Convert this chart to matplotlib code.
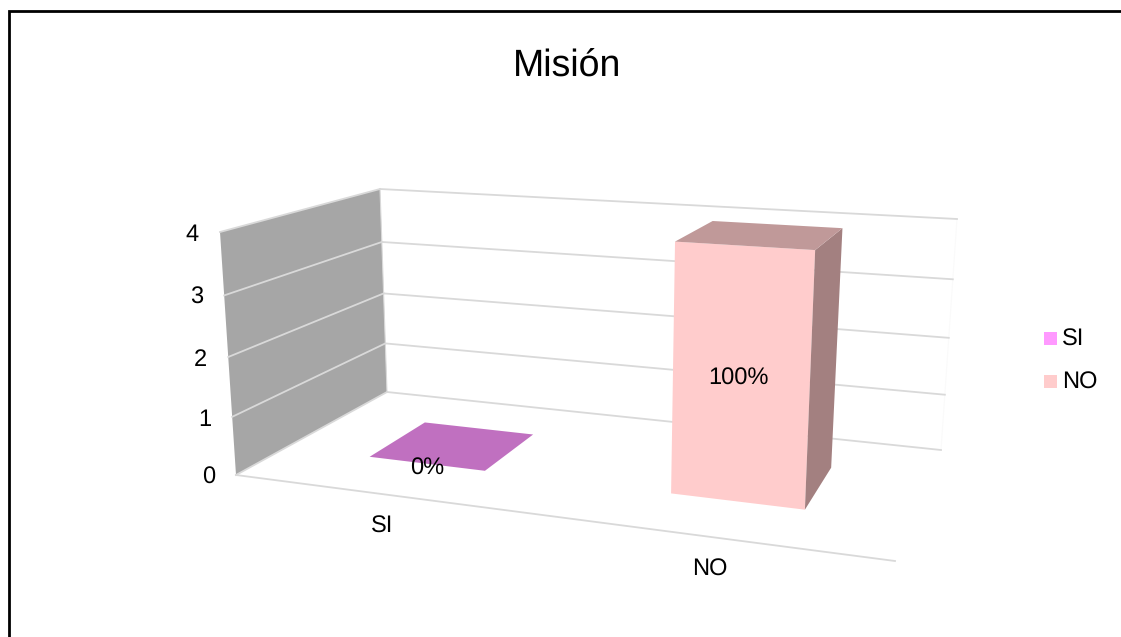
"""Pseudo-3D column chart drawn with a hand-rolled perspective projection."""

from __future__ import annotations

import matplotlib

matplotlib.use("Agg")

import matplotlib.pyplot as plt
import numpy as np
from matplotlib.axes import Axes
from matplotlib.patches import Polygon, Rectangle

CATEGORIES = ["SI", "NO"]
VALUES = [0, 4]
VALUE_LABELS = ["0%", "100%"]
VALUE_TICKS = [0, 1, 2, 3, 4]
TITLE = "Misión"

VALUE_MAX = 4
BAR_WIDTH = 0.4
BAR_DEPTH = (0.3, 0.7)

# scene corners in pixels: front-left, front-right, back-right, back-left
FLOOR_CORNERS = [(236, 475), (895, 561), (941, 450), (387, 392)]
CEILING_CORNERS = [(220, 232), (910, 277), (957, 219), (380, 189)]
# homogeneous weight of the ceiling, upper values are foreshortened less
CEILING_WEIGHT = 0.944

WALL_COLOR = "#a6a6a6"
GRID_COLOR = "#d9d9d9"
FAINT_COLOR = "#fafafa"
BAR_FACES = {
    "SI": ("#ff99ff", "#c070c0", "#a35fa3"),
    "NO": ("#ffcccc", "#c09999", "#a38080"),
}
TEXT_SIZE = 17


def _homography(corners: list[tuple[int, int]]) -> np.ndarray:
    """Solve the unit square -> quad mapping."""
    rows, targets = [], []
    for (u, d), (x, y) in zip([(0, 0), (1, 0), (1, 1), (0, 1)], corners):
        rows.append([u, d, 1, 0, 0, 0, -u * x, -d * x])
        rows.append([0, 0, 0, u, d, 1, -u * y, -d * y])
        targets += [x, y]
    return np.append(np.linalg.solve(rows, targets), 1).reshape(3, 3)


FLOOR = _homography(FLOOR_CORNERS)
CEILING = _homography(CEILING_CORNERS)


def project(u: float, d: float, value: float) -> tuple[float, float]:
    """Map (across, depth, value) to pixel coordinates."""
    low = FLOOR @ (u, d, 1)
    high = CEILING @ (u, d, 1)
    t = value / VALUE_MAX
    t = t * CEILING_WEIGHT / (1 - t + t * CEILING_WEIGHT)
    point = (1 - t) * low[:2] / low[2] + t * high[:2] / high[2]
    return float(point[0]), float(point[1])


def _face(axis: Axes, points: list[tuple[float, float, float]], color: str) -> None:
    axis.add_patch(
        Polygon([project(*p) for p in points], closed=True, fc=color, ec="none", zorder=3)
    )


def _draw_walls(axis: Axes) -> None:
    wall = [(0, 0, 0), (0, 1, 0), (0, 1, VALUE_MAX), (0, 0, VALUE_MAX)]
    _face(axis, wall, WALL_COLOR)

    for tick in VALUE_TICKS:
        side = [project(0, 0, tick), project(0, 1, tick)]
        back = [project(0, 1, tick), project(1, 1, tick)]
        axis.plot(*zip(*side), color=GRID_COLOR, lw=1.3, zorder=4)
        axis.plot(*zip(*back), color=GRID_COLOR, lw=1.3, zorder=2)

    axis.plot(*zip(project(0, 0, 0), project(1, 0, 0)), color=GRID_COLOR, lw=1.3, zorder=2)
    axis.plot(*zip(project(0, 1, 0), project(0, 1, VALUE_MAX)), color=GRID_COLOR, lw=0.8, zorder=4)
    axis.plot(*zip(project(1, 1, 0), project(1, 1, VALUE_MAX)), color=FAINT_COLOR, lw=0.8, zorder=1)

    for tick in VALUE_TICKS:
        x, y = project(0, 0, tick)
        axis.text(x - 27.5, y + 2.5, str(tick), ha="center", va="center", fontsize=TEXT_SIZE)


def _draw_bar(axis: Axes, center: float, value: float, faces: tuple[str, str, str]) -> None:
    front, top, side = faces
    u0, u1 = center - BAR_WIDTH / 4, center + BAR_WIDTH / 4
    d0, d1 = BAR_DEPTH
    if value > 0:
        _face(axis, [(u0, d0, 0), (u1, d0, 0), (u1, d0, value), (u0, d0, value)], front)
        _face(axis, [(u1, d0, 0), (u1, d1, 0), (u1, d1, value), (u1, d0, value)], side)
    _face(axis, [(u0, d0, value), (u1, d0, value), (u1, d1, value), (u0, d1, value)], top)


def _draw_bars(axis: Axes) -> None:
    for index, (name, value, label) in enumerate(zip(CATEGORIES, VALUES, VALUE_LABELS)):
        center = (index + 0.5) / len(CATEGORIES)
        _draw_bar(axis, center, value, BAR_FACES[name])

        # value label sits halfway up the front face, above its base point
        base_x, base_y = project(center, BAR_DEPTH[0], 0)
        _, top_y = project(center, BAR_DEPTH[0], value)
        axis.text(
            base_x + 1,
            (base_y + top_y) / 2 + 4.5,
            label,
            ha="center",
            va="center",
            fontsize=TEXT_SIZE,
            zorder=6,
        )

        x, y = project(center, 0, 0)
        axis.text(x, y + 33, name, ha="center", va="center", fontsize=TEXT_SIZE)


def _draw_legend(axis: Axes) -> None:
    for index, name in enumerate(CATEGORIES):
        top = 332 + index * 43
        axis.add_patch(Rectangle((1044, top), 13, 13, fc=BAR_FACES[name][0], ec="none"))
        axis.text(1062, top + 7.5, name, ha="left", va="center", fontsize=TEXT_SIZE)


def main() -> None:
    plt.rcParams["font.family"] = ["Liberation Sans", "DejaVu Sans"]
    plt.rcParams["text.hinting"] = "no_hinting"

    figure = plt.figure(figsize=(11.21, 6.37), dpi=100)
    axis = figure.add_axes((0, 0, 1, 1))
    axis.set_xlim(0, 1121)
    axis.set_ylim(637, 0)
    axis.axis("off")

    # frame runs off the right and bottom edges
    axis.plot([9, 9, 1121], [637, 11, 11], color="black", lw=2, solid_joinstyle="miter")

    axis.text(567, 67, TITLE, ha="center", va="center", fontsize=27)
    _draw_walls(axis)
    _draw_bars(axis)
    _draw_legend(axis)

    figure.savefig("out.png", dpi=100)


if __name__ == "__main__":
    main()
